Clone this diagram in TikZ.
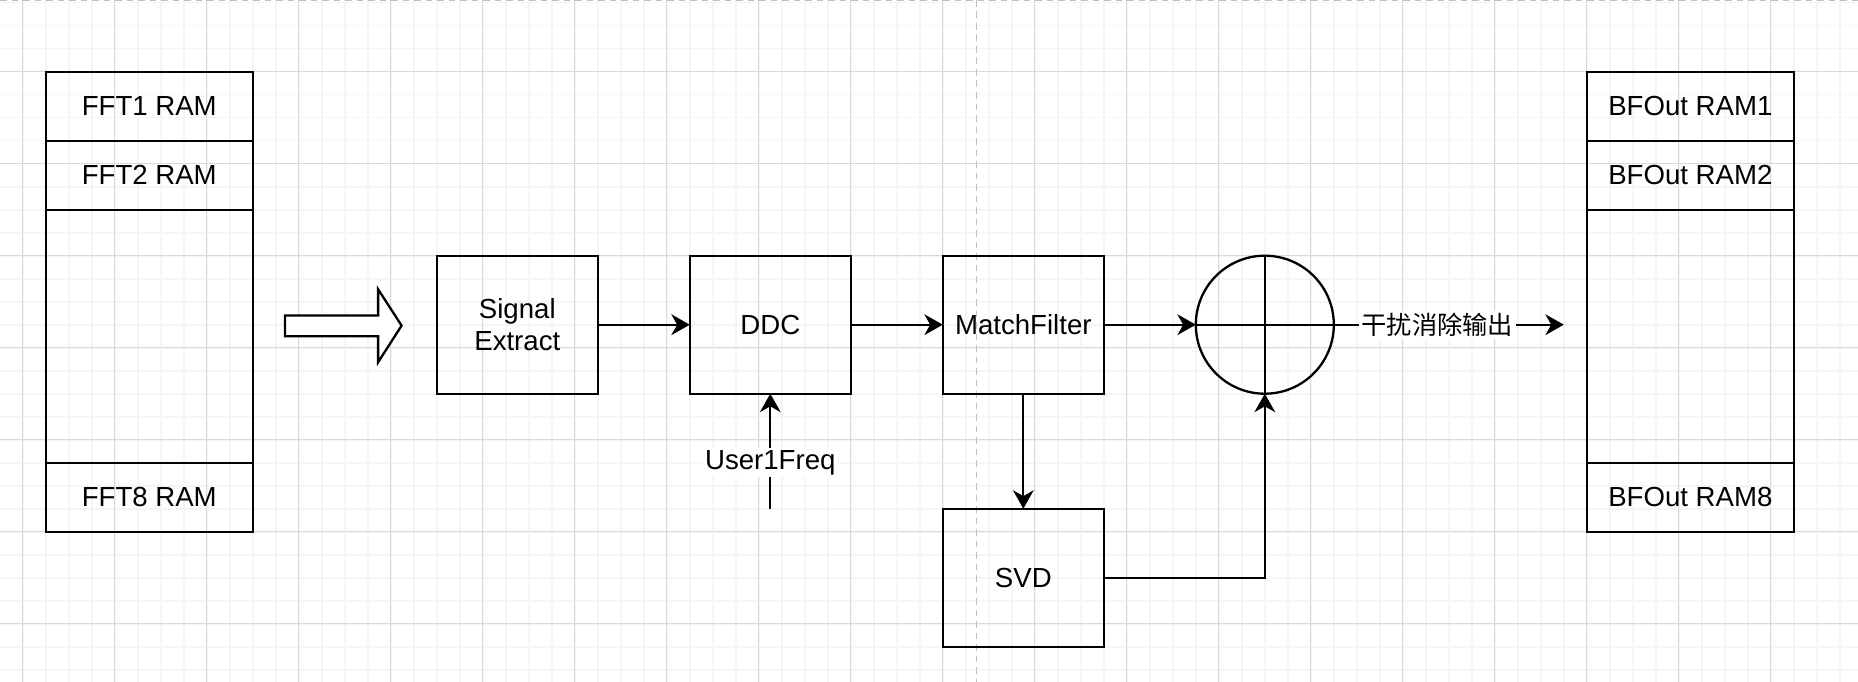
\documentclass[tikz,border=0pt]{standalone}
\usepackage{fontspec}
\setmainfont{Liberation Sans}
\newfontfamily\cjk{Noto Sans CJK SC}
\usetikzlibrary{positioning, arrows.meta}

\begin{document}
\begin{tikzpicture}[x=10pt,y=-10pt,>={Stealth[length=8pt,width=9pt,inset=2.5pt]},
  every node/.style={font=\fontsize{12}{14}\selectfont,outer sep=0pt},
  block/.style={shape=rectangle,draw,line width=1pt,minimum width=70pt,minimum height=60pt,align=center},
  ramcell/.style={shape=rectangle,draw,line width=1pt,minimum width=90pt,minimum height=30pt},
  flow/.style={->,line width=1pt},
  lbl/.style={fill=white,inner sep=1pt},
  node distance=40pt]
	    % canvas and grid
	    \fill[white] (-0.99,-3.117) rectangle (79.79,26.53);
	    \useasboundingbox (-0.99,-3.117) rectangle (79.79,26.53);
	    \draw[gray!8,line width=0.7pt,step=10pt] (-0.99,26.53) grid (79.79,-3.117);
	    \draw[gray!30,line width=0.45pt,step=40pt] (-0.99,26.53) grid (79.79,-3.117);
	    \draw[gray!50,line width=0.5pt,dash pattern=on 3pt off 2pt] (41.48,-3.117) -- (41.48,26.53);
	    \draw[gray!50,line width=0.5pt,dash pattern=on 3pt off 2pt] (-0.99,-3.09) -- (79.79,-3.09);

	    % input RAMs
	    \node[ramcell] (fft1) at (5.5,1.5) {FFT1 RAM};
	    \node[ramcell] (fft2) [below=0pt of fft1] {FFT2 RAM};
	    \node[ramcell,minimum height=110pt] (fftgap) [below=0pt of fft2] {};
	    \node[ramcell] (fft8) [below=0pt of fftgap] {FFT8 RAM};

	    % output RAMs
	    \node[ramcell] (bf1) at (72.5,1.5) {BFOut RAM1};
	    \node[ramcell] (bf2) [below=0pt of bf1] {BFOut RAM2};
	    \node[ramcell,minimum height=110pt] (bfgap) [below=0pt of bf2] {};
	    \node[ramcell] (bf8) [below=0pt of bfgap] {BFOut RAM8};

	    % big arrow
	    \draw[line width=1pt,fill=white] (11.4,10.6) -- (15.45,10.6) -- (15.45,9.46) -- (16.47,11.04)
	      -- (15.45,12.63) -- (15.45,11.5) -- (11.4,11.5) -- cycle;

	    % processing chain
	    \node[block] (sig) at (21.5,11) {Signal\\Extract};
	    \node[block] (ddc) [right=of sig] {DDC};
	    \node[block] (mf) [right=of ddc] {MatchFilter};
	    \node[shape=circle,draw,line width=1pt,minimum size=60pt,inner sep=0pt] (sum) [right=of mf] {};
	    \node[block] (svd) [below=50pt of mf] {SVD};
	    \coordinate (freq) at (32.5,19);
	    \coordinate (out) at (67,11);

	    \draw[line width=1pt] (sum.north) -- (sum.south);
	    \draw[line width=1pt] (sum.west) -- (sum.east);

	    \draw[flow] (sig) -- (ddc);
	    \draw[flow] (ddc) -- (mf);
	    \draw[flow] (mf) -- (sum);
	    \draw[flow] (mf) -- (svd);
	    \draw[flow] (svd.east) -| (sum.south);
	    \draw[flow] (freq) -- node[lbl,pos=0.4] {User1Freq} (ddc.south);
	    \draw[flow] (sum.east) -- node[lbl,pos=0.45,font=\cjk\fontsize{11}{13}\selectfont] {干扰消除输出} (out);
\end{tikzpicture}
\end{document}
